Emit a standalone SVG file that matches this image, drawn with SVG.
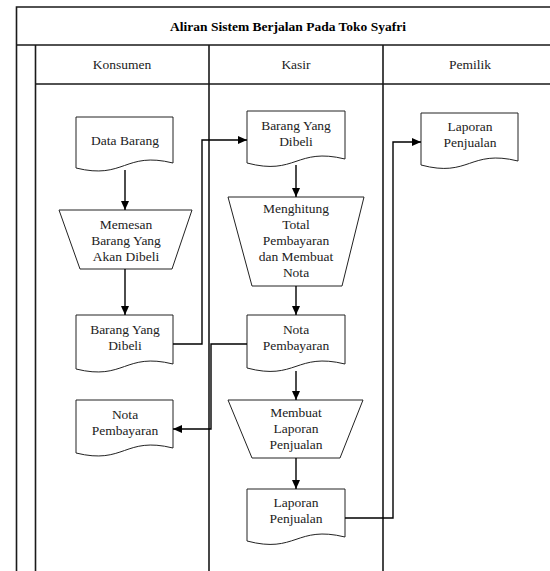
<svg xmlns="http://www.w3.org/2000/svg" width="550" height="571" viewBox="0 0 550 571" font-family="'Liberation Serif', 'Times New Roman', 'DejaVu Serif', serif">
<defs>
<marker id="ah" markerWidth="10" markerHeight="10" refX="9" refY="5" orient="auto" markerUnits="userSpaceOnUse">
<path d="M0,1 L9,5 L0,9 Z" fill="#000"/>
</marker>
<style>
.frame{fill:none;stroke:#1a1a1a;stroke-width:1.6}
.shape{fill:#fff;stroke:#222;stroke-width:1}
.conn{fill:none;stroke:#000;stroke-width:1.4}
text{font-family:'Liberation Serif','Times New Roman','DejaVu Serif',serif;font-size:13.5px;fill:#222;text-anchor:middle}
.title{font-weight:bold;fill:#000;font-size:13.5px}
</style>
</defs>
<rect x="0" y="0" width="550" height="571" fill="#fff"/>
<g id="frame">
<path class="frame" d="M16.5,571 V7 H551 M16.5,45 H551 M35.5,571 V45 M35.5,84 H551 M209,45 V571 M383,45 V571"/>
<text class="title" x="288" y="31">Aliran Sistem Berjalan Pada Toko Syafri</text>
<text x="122" y="69">Konsumen</text>
<text x="296" y="69">Kasir</text>
<text x="470" y="69">Pemilik</text>
</g>
<g id="n-data-barang">
<path class="shape" d="M76,117 H173 V163 C124.5,151 124.5,180 76,168 Z"/>
<text x="125" y="145">Data Barang</text>
</g>
<g id="n-memesan">
<path class="shape" d="M59,210 H192 L172,269 H80 Z"/>
<text x="126" y="229">Memesan</text>
<text x="126" y="245">Barang Yang</text>
<text x="126" y="261">Akan Dibeli</text>
</g>
<g id="n-barang-konsumen">
<path class="shape" d="M76,315 H173 V364 C124.5,352 124.5,381 76,369 Z"/>
<text x="125" y="334">Barang Yang</text>
<text x="125" y="350">Dibeli</text>
</g>
<g id="n-nota-konsumen">
<path class="shape" d="M76,400 H173 V448 C124.5,436 124.5,465 76,453 Z"/>
<text x="125" y="419">Nota</text>
<text x="125" y="435">Pembayaran</text>
</g>
<g id="n-barang-kasir">
<path class="shape" d="M247,111 H345 V159 C296,147 296,176 247,163 Z"/>
<text x="296" y="130">Barang Yang</text>
<text x="296" y="146">Dibeli</text>
</g>
<g id="n-menghitung">
<path class="shape" d="M228,197 H364 L342,286 H252 Z"/>
<text x="296" y="213">Menghitung</text>
<text x="296" y="229">Total</text>
<text x="296" y="245">Pembayaran</text>
<text x="296" y="261">dan Membuat</text>
<text x="296" y="277">Nota</text>
</g>
<g id="n-nota-kasir">
<path class="shape" d="M247,315 H345 V364 C296,352 296,381 247,368 Z"/>
<text x="296" y="334">Nota</text>
<text x="296" y="350">Pembayaran</text>
</g>
<g id="n-membuat-laporan">
<path class="shape" d="M228,400 H363 L340,458 H252 Z"/>
<text x="296" y="417">Membuat</text>
<text x="296" y="433">Laporan</text>
<text x="296" y="449">Penjualan</text>
</g>
<g id="n-laporan-kasir">
<path class="shape" d="M247,489 H345 V537 C296,525 296,554 247,541 Z"/>
<text x="296" y="507">Laporan</text>
<text x="296" y="523">Penjualan</text>
</g>
<g id="n-laporan-pemilik">
<path class="shape" d="M421,113 H518 V161 C469.5,149 469.5,178 421,165 Z"/>
<text x="470" y="131">Laporan</text>
<text x="470" y="147">Penjualan</text>
</g>
<g id="connectors">
<path class="conn" marker-end="url(#ah)" d="M125,170 V210"/>
<path class="conn" marker-end="url(#ah)" d="M125,269 V315"/>
<path class="conn" marker-end="url(#ah)" d="M173,344 H202 V140 H247"/>
<path class="conn" marker-end="url(#ah)" d="M296,165 V197"/>
<path class="conn" marker-end="url(#ah)" d="M296,286 V315"/>
<path class="conn" marker-end="url(#ah)" d="M247,344 H211 V429 H173"/>
<path class="conn" marker-end="url(#ah)" d="M296,371 V400"/>
<path class="conn" marker-end="url(#ah)" d="M296,458 V489"/>
<path class="conn" marker-end="url(#ah)" d="M345,518 H393 V142 H421"/>
</g>
</svg>
